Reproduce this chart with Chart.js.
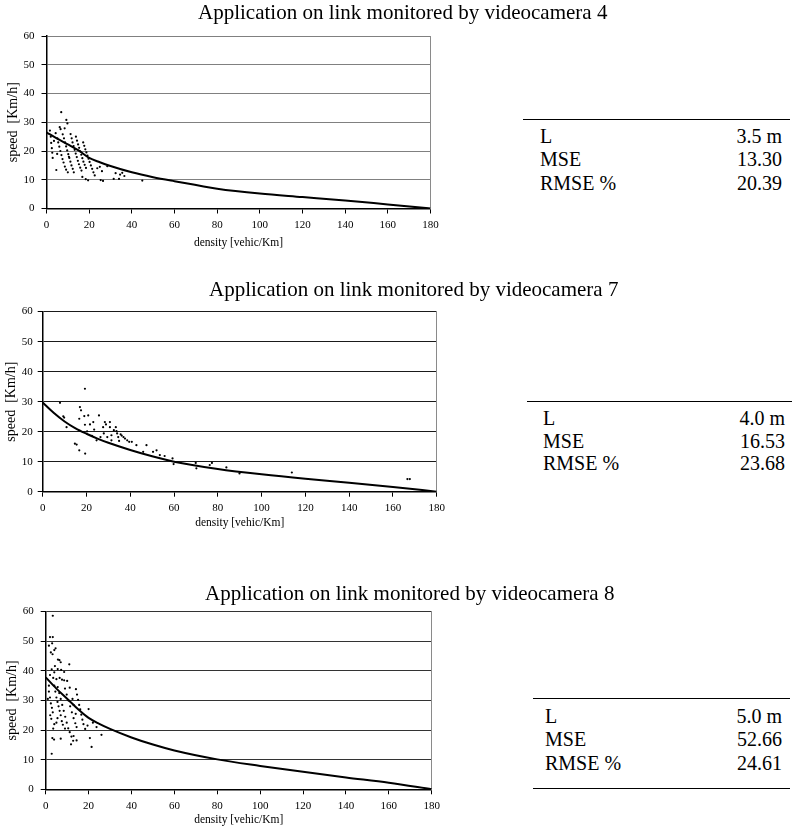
<!DOCTYPE html>
<html>
<head>
<meta charset="utf-8">
<script src="https://cdn.jsdelivr.net/npm/chart.js@4.4.1/dist/chart.umd.min.js"></script>
<style>
  html, body { margin: 0; padding: 0; background: #fff; }
  body { width: 794px; height: 833px; position: relative; overflow: hidden;
         font-family: "Liberation Serif", "Times New Roman", serif; color: #000; }
  canvas { position: absolute; left: 0; }
  .title { position: absolute; font-size: 21px; line-height: 21px; white-space: nowrap; }
  .cell { position: absolute; font-size: 20px; line-height: 20px; white-space: nowrap; }
  .rule { position: absolute; height: 0; border-top: 1.5px solid #000; }
</style>
</head>
<body>

<!-- panel 1 -->
<canvas id="cam4" width="445" height="230" style="top:20px"></canvas>
<div class="title" style="left:198px; top:2px">Application on link monitored by videocamera 4</div>
<div class="rule" style="left:523px; top:118.5px; width:267px"></div>
<div class="cell" style="left:540px; top:126px">L</div>
<div class="cell" style="right:12px; top:126px">3.5 m</div>
<div class="cell" style="left:540px; top:149.3px">MSE</div>
<div class="cell" style="right:12px; top:149.3px">13.30</div>
<div class="cell" style="left:540px; top:173.3px">RMSE %</div>
<div class="cell" style="right:12px; top:173.3px">20.39</div>

<!-- panel 2 -->
<canvas id="cam7" width="450" height="230" style="top:300px"></canvas>
<div class="title" style="left:209px; top:279px">Application on link monitored by videocamera 7</div>
<div class="rule" style="left:527px; top:401px; width:265px"></div>
<div class="cell" style="left:543px; top:407.5px">L</div>
<div class="cell" style="right:9px; top:407.5px">4.0 m</div>
<div class="cell" style="left:543px; top:431px">MSE</div>
<div class="cell" style="right:9px; top:431px">16.53</div>
<div class="cell" style="left:543px; top:453.3px">RMSE %</div>
<div class="cell" style="right:9px; top:453.3px">23.68</div>

<!-- panel 3 -->
<canvas id="cam8" width="445" height="229" style="top:598px"></canvas>
<div class="title" style="left:205px; top:583.4px">Application on link monitored by videocamera 8</div>
<div class="rule" style="left:533px; top:697.5px; width:257px"></div>
<div class="cell" style="left:545px; top:706px">L</div>
<div class="cell" style="right:12px; top:706px">5.0 m</div>
<div class="cell" style="left:545px; top:729.3px">MSE</div>
<div class="cell" style="right:12px; top:729.3px">52.66</div>
<div class="cell" style="left:545px; top:752.6px">RMSE %</div>
<div class="cell" style="right:12px; top:752.6px">24.61</div>
<div class="rule" style="left:533px; top:788.3px; width:257px"></div>

<script>
// --- data: observed [density, speed] and fitted speed-density curve ---
const curveDensity = [0, 5, 10, 15, 20, 25, 30, 40, 50, 60, 80, 100, 120, 140, 160, 180];

const cam4Curve = [26.5, 24.3, 22.3, 20.2, 17.6, 16.1, 14.8, 12.6, 10.9, 9.5, 6.9, 5.2, 4.0, 2.8, 1.4, 0];
const cam7Curve = [29.7, 26.3, 23.4, 21.1, 19.3, 17.7, 16.3, 13.9, 11.8, 10.0, 7.6, 5.8, 4.3, 3.0, 1.6, 0];
const cam8Curve = [37.8, 34.0, 30.6, 27.1, 24.1, 22.1, 20.4, 17.5, 15.1, 13.1, 10.1, 7.9, 5.9, 4.0, 2.2, 0];

const cam4Obs = [
  [1.6,27.1],[2.0,25.0],[2.2,22.8],[2.5,21.0],[2.7,19.4],[2.9,17.6],[4.6,13.4],
  [4.3,26.2],[5.1,24.4],[5.5,23.0],[6.0,21.5],[6.5,20.0],[7.0,18.6],[7.5,17.2],[8.0,16.0],[8.6,14.6],[9.2,13.5],[10.0,12.6],
  [6.9,33.5],[6.2,28.3],[6.6,27.6],[8.5,27.9],[7.6,25.8],[8.2,24.4],[8.7,23.0],[9.2,21.6],[9.7,20.2],[10.2,18.9],[10.7,17.6],
  [11.2,16.3],[11.7,15.0],[12.3,13.8],[12.8,12.6],
  [9.3,30.8],[9.8,29.6],[11.3,25.9],[11.8,24.4],[12.2,23.0],[12.7,21.7],[13.2,20.4],[13.7,19.1],[14.2,17.9],[14.7,16.6],
  [15.2,15.4],[15.8,14.2],[16.4,13.2],
  [13.8,25.0],[14.3,23.6],[14.8,22.3],[15.3,21.1],[15.8,19.9],[16.3,18.7],[16.8,17.5],[17.3,16.3],[17.9,15.2],[18.5,14.1],
  [17.2,23.0],[17.7,21.8],[18.2,20.6],[18.7,19.5],[19.2,18.4],[19.7,17.3],[20.2,16.2],[20.8,15.0],[21.4,13.8],[22.0,12.6],[22.6,11.5],
  [16.8,11.0],[18.4,10.2],[19.5,9.8],[23.8,14.0],[25.0,14.5],[26.0,13.0],[25.4,9.9],[26.5,9.6],[28.5,14.7],[31.5,10.3],
  [32.4,12.3],[34.0,10.3],[34.5,11.8],[35.5,12.4],[36.5,11.3],[44.9,9.7],[10.5,18.0],[5.0,19.0],[3.5,23.5]
];

const cam7Obs = [
  [7.9,29.6],[9.4,25.1],[9.8,24.7],[10.9,21.5],[14.7,16.0],[15.5,15.7],[16.7,13.8],[19.3,34.3],[17.0,28.2],[17.5,27.1],
  [16.7,24.3],[19.0,25.2],[19.3,22.3],[19.4,12.7],[20.8,25.4],[21.6,22.4],[20.3,20.1],[23.1,23.2],[23.5,20.7],[22.5,18.6],
  [24.6,17.1],[25.7,25.4],[26.4,18.2],[27.6,21.5],[27.9,19.4],[28.4,23.2],[28.9,22.4],[29.5,18.2],[30.7,23.2],[30.7,21.5],
  [31.4,18.8],[31.4,17.1],[32.5,20.5],[33.4,21.5],[33.7,20.2],[34.0,19.4],[34.5,18.2],[34.9,16.9],[35.6,19.1],[36.1,18.7],
  [36.9,18.2],[37.6,17.7],[38.6,17.1],[39.5,16.6],[40.7,16.6],[42.8,15.5],[45.9,13.3],[47.4,15.5],[50.4,13.3],[52.0,13.8],
  [53.5,12.2],[55.7,11.9],[59.3,11.1],[59.8,9.2],[69.9,9.6],[70.2,7.8],[76.3,8.9],[77.3,9.6],[83.9,8.1],[89.9,6.1],
  [113.8,6.4],[166.6,4.2],[167.7,4.2]
];

const cam8Obs = [
  [3.3,58.6],[2.0,51.4],[3.3,51.4],[1.5,48.5],[3.0,49.3],[4.6,47.6],[2.4,46.2],[3.2,45.6],[4.0,47.0],
  [5.7,43.8],[6.4,43.6],[7.0,42.9],[11.0,42.2],[4.3,41.6],[2.8,40.5],[4.0,39.5],[5.6,40.6],[7.2,40.3],[8.6,39.6],
  [2.0,38.6],[3.5,37.6],[5.0,37.2],[6.5,37.6],[7.6,37.0],[8.6,36.8],[10.0,36.6],[11.2,34.3],
  [1.5,35.0],[1.5,33.0],[2.0,31.0],[2.4,29.0],[2.9,27.5],[3.3,26.0],[2.1,25.0],[2.6,23.8],[1.0,30.5],
  [4.0,35.0],[4.5,33.0],[5.0,31.0],[5.5,29.5],[6.0,28.0],[6.5,26.5],[7.0,25.0],[7.5,23.0],[8.0,21.8],[9.0,20.5],
  [5.6,34.5],[6.3,32.5],[7.0,30.5],[7.7,28.5],[8.4,26.5],[9.1,24.5],[9.8,22.5],[10.5,20.6],[11.2,19.3],[12.0,17.8],[12.8,16.4],
  [9.0,34.0],[9.8,32.0],[10.6,30.0],[11.4,28.0],[12.2,26.0],[13.0,24.0],[13.8,22.3],[14.4,21.0],
  [14.1,33.8],[14.6,32.0],[15.1,30.2],[15.6,28.5],[16.1,27.0],[16.6,25.2],[17.1,23.5],[17.6,22.0],[18.4,20.4],
  [12.5,30.5],[13.0,28.5],[14.0,25.5],[20.0,27.1],[20.6,17.3],[21.4,14.3],[23.7,21.0],[26.0,18.4],[22.0,22.5],[19.5,21.5],
  [2.8,12.0],[3.1,17.3],[3.9,16.8],[7.0,17.1],[11.8,15.2],[14.4,16.5],[13.0,18.0],[5.0,22.5],[5.5,24.0],[3.5,20.5],[4.0,22.0]
];

Chart.defaults.font.family = '"Liberation Serif", "Times New Roman", serif';
Chart.defaults.color = "#000";

// --- build one panel ---
function panelConfig(obs, curve, p) {
  return {
    type: "scatter",
    data: {
      datasets: [
        {
          label: "observed",
          data: obs.map(([x, y]) => ({ x, y })),
          pointRadius: 1.1,
          pointHoverRadius: 1.1,
          backgroundColor: "#000",
          borderWidth: 0
        },
        {
          label: "model",
          data: curveDensity.map((x, i) => ({ x, y: curve[i] })),
          showLine: true,
          pointRadius: 0,
          borderColor: "#000",
          borderWidth: 2,
          cubicInterpolationMode: "monotone"
        }
      ]
    },
    options: {
      responsive: false,
      animation: false,
      events: [],
      layout: { padding: { left: p.padLeft, top: p.padTop, right: p.padRight, bottom: 0 } },
      plugins: { legend: { display: false }, tooltip: { enabled: false } },
      scales: {
        x: {
          type: "linear", min: 0, max: 180,
          ticks: { stepSize: 20, padding: 5, maxRotation: 0, font: { size: 11 } },
          grid: { drawOnChartArea: false, tickLength: 5, color: "#000", tickColor: "#000" },
          border: { color: "#000", width: 1.5 },
          title: { display: true, text: "density [vehic/Km]", font: { size: 11.5 }, padding: 0 },
          afterFit: s => { s.height = p.xHeight; }
        },
        y: {
          min: 0, max: 60,
          ticks: { stepSize: 10, padding: p.yTickPad, font: { size: 11 } },
          grid: {
            color: ctx => (ctx.tick && ctx.tick.value === 0 ? "#000" : p.gridColor),
            tickColor: "#000", tickLength: 5, lineWidth: 1
          },
          border: { color: "#000", width: 1.5 },
          title: { display: true, text: "speed  [Km/h]", font: { size: 14 }, padding: 0 },
          afterFit: s => { s.width = p.yWidth; }
        },
        edge: {
          display: true, position: "right",
          ticks: { display: false },
          grid: { display: false, drawTicks: false },
          border: { color: "#8a8a8a", width: 1 },
          afterFit: s => { s.width = 0; }
        }
      }
    }
  };
}

new Chart(document.getElementById("cam4"), panelConfig(cam4Obs, cam4Curve, {
  padLeft: 5, yWidth: 41.5, padTop: 16, padRight: 14.5, xHeight: 41.5, yTickPad: 7, gridColor: "#808080"
}));

new Chart(document.getElementById("cam7"), panelConfig(cam7Obs, cam7Curve, {
  padLeft: 3, yWidth: 39.7, padTop: 10.7, padRight: 12.5, xHeight: 38.3, yTickPad: 5, gridColor: "#1a1a1a"
}));

new Chart(document.getElementById("cam8"), panelConfig(cam8Obs, cam8Curve, {
  padLeft: 4, yWidth: 41.7, padTop: 12, padRight: 12, xHeight: 37.7, yTickPad: 7, gridColor: "#333"
}));
</script>
</body>
</html>
